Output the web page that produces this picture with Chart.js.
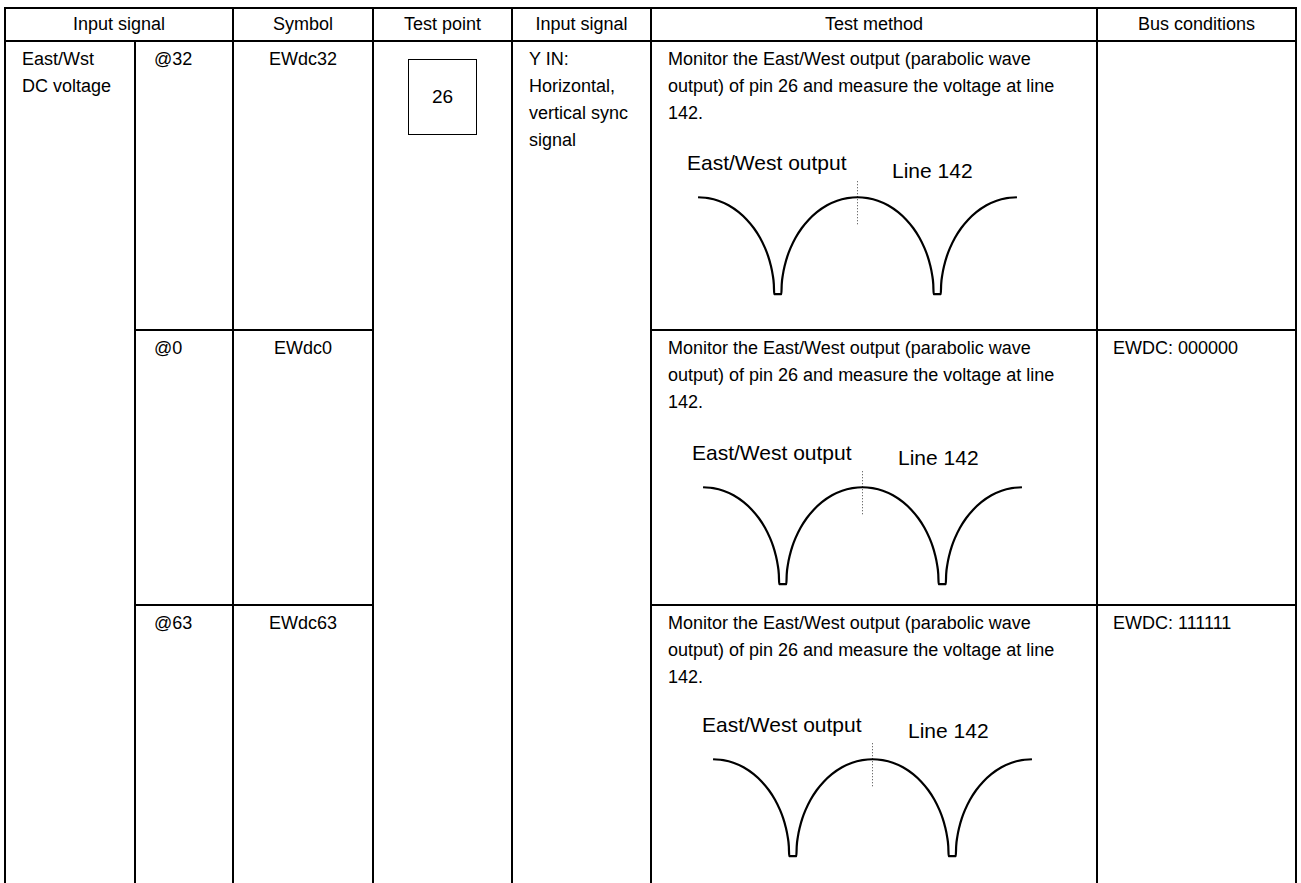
<!DOCTYPE html>
<html>
<head>
<meta charset="utf-8">
<script src="https://cdn.jsdelivr.net/npm/chart.js@4.4.1/dist/chart.umd.min.js"></script>
<style>
  html, body { margin: 0; padding: 0; background: #fff; }
  body { width: 1301px; height: 883px; position: relative; overflow: hidden;
         font-family: "Liberation Sans", Arial, sans-serif; color: #000; }
  .ln { position: absolute; background: #000; }
  .hd { position: absolute; font-size: 18px; display: flex; align-items: center; justify-content: center; white-space: nowrap; }
  .tx { position: absolute; font-size: 18px; line-height: 27px; white-space: nowrap; }
  .lbl { position: absolute; font-size: 21px; line-height: 21px; white-space: nowrap; }
  .pin { position: absolute; border: 1.5px solid #000; box-sizing: border-box; font-size: 19px;
         display: flex; align-items: center; justify-content: center; }
  canvas.wave { position: absolute; }
</style>
</head>
<body>
<script>
// table text
const headers = ['Input signal', 'Symbol', 'Test point', 'Input signal', 'Test method', 'Bus conditions'];
const itemLines = ['East/Wst', 'DC voltage'];
const settings = ['@32', '@0', '@63'];
const symbols = ['EWdc32', 'EWdc0', 'EWdc63'];
const testPin = '26';
const inputLines = ['Y IN:', 'Horizontal,', 'vertical sync', 'signal'];
const methodLines = ['Monitor the East/West output (parabolic wave', 'output) of pin 26 and measure the voltage at line', '142.'];
const busConditions = ['', 'EWDC: 000000', 'EWDC: 111111'];
const waveLabel = 'East/West output';
const markerLabel = 'Line 142';

// parabolic wave (time units, level 0 = bottom, 100 = top)
const waveX = [0, 10, 20, 30, 40, 48, 55, 61, 66, 69, 71.5, 73.5, 74.6, 75,
  82, 82.4, 83.5, 85.5, 88, 91, 96, 102, 109, 117, 127, 137, 147, 157,
  167, 177, 187, 197, 205, 212, 218, 223, 226, 228.5, 230.5, 231.6, 232,
  239, 239.4, 240.5, 242.5, 245, 248, 253, 259, 266, 274, 284, 294, 304, 314];
const waveY = [100, 99, 96.4, 91.7, 84.6, 76.8, 68, 58.2, 47.5, 39.2, 30.2, 19.9, 10.3, 0,
  0, 10.3, 19.9, 30.2, 39.2, 47.5, 58.2, 68, 76.8, 84.6, 91.7, 96.4, 99, 100,
  99, 96.4, 91.7, 84.6, 76.8, 68, 58.2, 47.5, 39.2, 30.2, 19.9, 10.3, 0,
  0, 10.3, 19.9, 30.2, 39.2, 47.5, 58.2, 68, 76.8, 84.6, 91.7, 96.4, 99, 100];
const markerX = [157, 157];
const markerY = [116.5, 72];

// layout
const colX = [5, 135, 233, 373, 512, 651, 1097, 1296];
const tableTop = 8, headBottom = 41, rowTops = [41, 330, 605], pageBottom = 883;
const wavePos = [
  { left: 694, top: 173, lblX: 687, lblY: 152, mkX: 892, mkY: 160 },
  { left: 699, top: 463, lblX: 692, lblY: 442, mkX: 898, mkY: 447 },
  { left: 709, top: 735, lblX: 702, lblY: 714, mkX: 908, mkY: 720 },
];

const body = document.body;
function el(cls, css, html) {
  const d = document.createElement('div');
  d.className = cls;
  Object.assign(d.style, css);
  if (html !== undefined) d.innerHTML = html;
  body.appendChild(d);
  return d;
}
function hLine(x1, x2, y) { el('ln', { left: x1 - 1 + 'px', top: y - 1 + 'px', width: x2 - x1 + 2 + 'px', height: '2px' }); }
function vLine(x, y1, y2) { el('ln', { left: x - 1 + 'px', top: y1 - 1 + 'px', width: '2px', height: y2 - y1 + 1 + 'px' }); }

// grid
hLine(colX[0], colX[7], tableTop);
hLine(colX[0], colX[7], headBottom);
colX.forEach((x, i) => vLine(x, i === 1 ? headBottom : tableTop, pageBottom));
[rowTops[1], rowTops[2]].forEach(y => { hLine(colX[1], colX[3], y); hLine(colX[5], colX[7], y); });

// header
const headSpans = [[0, 2], [2, 3], [3, 4], [4, 5], [5, 6], [6, 7]];
headers.forEach((h, i) => {
  const [a, b] = headSpans[i];
  el('hd', { left: colX[a] + 'px', width: colX[b] - colX[a] + 'px', top: tableTop + 'px', height: headBottom - tableTop + 'px' }, h);
});

// merged cells of the first row
const textTop = 5;
el('tx', { left: colX[0] + 17 + 'px', top: rowTops[0] + textTop + 'px' }, itemLines.join('<br>'));
el('tx', { left: colX[4] + 17 + 'px', top: rowTops[0] + textTop + 'px' }, inputLines.join('<br>'));
el('pin', { left: '408px', top: '59px', width: '69px', height: '76px' }, testPin);

rowTops.forEach((top, r) => {
  el('tx', { left: colX[1] + 19 + 'px', top: top + textTop + 'px' }, settings[r]);
  el('tx', { left: colX[2] + 'px', width: colX[3] - colX[2] + 'px', textAlign: 'center', top: top + textTop + 'px' }, symbols[r]);
  el('tx', { left: colX[5] + 17 + 'px', top: top + textTop + 'px' }, methodLines.join('<br>'));
  if (busConditions[r]) el('tx', { left: colX[6] + 16 + 'px', top: top + textTop + 'px' }, busConditions[r]);

  const p = wavePos[r];
  el('lbl', { left: p.lblX + 'px', top: p.lblY + 'px' }, waveLabel);
  el('lbl', { left: p.mkX + 'px', top: p.mkY + 'px' }, markerLabel);

  const cv = document.createElement('canvas');
  cv.className = 'wave';
  cv.width = 327; cv.height = 126;
  cv.style.left = p.left + 'px'; cv.style.top = p.top + 'px';
  body.appendChild(cv);
  drawWave(cv);
});

function drawWave(cv) {
  new Chart(cv.getContext('2d'), {
    type: 'line',
    data: {
      datasets: [
        {
          data: waveX.map((x, i) => ({ x: x, y: waveY[i] })),
          borderColor: '#000',
          borderWidth: 2.2,
          pointRadius: 0,
          cubicInterpolationMode: 'monotone',
          borderJoinStyle: 'round',
          fill: false,
          clip: false,
        },
        {
          data: markerX.map((x, i) => ({ x: x, y: markerY[i] })),
          borderColor: '#444',
          borderWidth: 1,
          borderDash: [1, 2],
          pointRadius: 0,
          fill: false,
          clip: false,
        },
      ],
    },
    options: {
      responsive: false,
      animation: false,
      events: [],
      layout: { padding: 0 },
      plugins: { legend: { display: false }, tooltip: { enabled: false } },
      scales: {
        x: { type: 'linear', min: -4, max: 318, display: false },
        y: { min: -5, max: 125, display: false },
      },
    },
  });
}
</script>
</body>
</html>
